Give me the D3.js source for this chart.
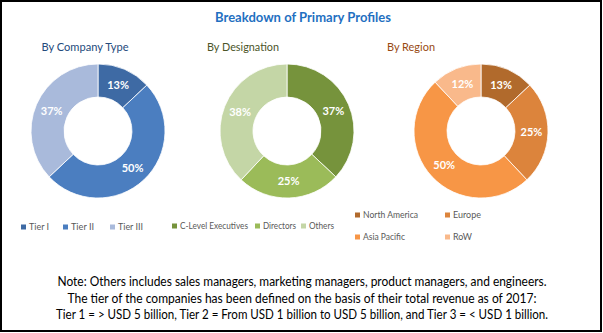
<!DOCTYPE html>
<html>
<head>
<meta charset="utf-8">
<script src="https://cdn.jsdelivr.net/npm/d3@7"></script>
<style>
  html, body { margin: 0; padding: 0; background: #fff; }
  svg { display: block; }
</style>
</head>
<body>
<svg id="chart" width="603" height="333"></svg>
<script>
// Shares of primary interview respondents, in percent
const companyTypes = ["Tier I", "Tier II", "Tier III"];
const companyValues = [13, 50, 37];
const companyColors = ["#3e6aa4", "#4b7ec0", "#a9badb"];

const designations = ["C-Level Executives", "Directors", "Others"];
const designationValues = [37, 25, 38];
const designationColors = ["#76933c", "#9bbb59", "#c4d6a6"];

const regions = ["North America", "Europe", "Asia Pacific", "RoW"];
const regionValues = [13, 25, 50, 12];
const regionColors = ["#b16a2c", "#dc843c", "#f79646", "#f9b98b"];

const noteLines = [
  "Note: Others includes sales managers, marketing managers, product managers, and engineers.",
  "The tier of the companies has been defined on the basis of their total revenue as of 2017:",
  "Tier 1 = > USD 5 billion, Tier 2 = From USD 1 billion to USD 5 billion, and Tier 3 = < USD 1 billion."
];

const svg = d3.select("#chart");
const font = "Lato, 'Open Sans', sans-serif";

svg.append("rect")
  .attr("x", 1).attr("y", 1).attr("width", 600).attr("height", 330)
  .attr("fill", "#fff").attr("stroke", "#000").attr("stroke-width", 2);

svg.append("text")
  .attr("x", 303).attr("y", 22)
  .attr("text-anchor", "middle")
  .attr("font-family", font).attr("font-weight", "bold").attr("font-size", 14)
  .attr("fill", "#1f70c1")
  .attr("textLength", 176).attr("lengthAdjust", "spacingAndGlyphs")
  .text("Breakdown of Primary Profiles");

const panels = [
  { title: "By Company Type", titleColor: "#244a7c", tx: 85, tw: 87, cx: 98, cy: 131,
    names: companyTypes, values: companyValues, colors: companyColors },
  { title: "By Designation", titleColor: "#4b5529", tx: 243, tw: 72, cx: 287, cy: 131,
    names: designations, values: designationValues, colors: designationColors },
  { title: "By Region", titleColor: "#984a12", tx: 411, tw: 48, cx: 481, cy: 131,
    names: regions, values: regionValues, colors: regionColors }
];

const outerR = 67, innerR = 34;
const arc = d3.arc().innerRadius(innerR).outerRadius(outerR);
const labelArc = d3.arc().innerRadius((innerR + outerR) / 2).outerRadius((innerR + outerR) / 2);
const pie = d3.pie().sort(null).value(d => d.value);

panels.forEach(p => {
  svg.append("text")
    .attr("x", p.tx).attr("y", 51)
    .attr("text-anchor", "middle")
    .attr("font-family", font).attr("font-size", 12)
    .attr("fill", p.titleColor)
    .attr("textLength", p.tw).attr("lengthAdjust", "spacingAndGlyphs")
    .text(p.title);

  const data = p.names.map((n, i) => ({ name: n, value: p.values[i], color: p.colors[i] }));
  const g = svg.append("g").attr("transform", `translate(${p.cx},${p.cy})`);
  const arcs = pie(data);

  g.selectAll("path").data(arcs).join("path")
    .attr("d", arc)
    .attr("fill", d => d.data.color)
    .attr("stroke", "#fff").attr("stroke-width", 0.8);

  g.selectAll("text").data(arcs).join("text")
    .attr("transform", d => `translate(${labelArc.centroid(d)})`)
    .attr("text-anchor", "middle").attr("dy", "0.35em")
    .attr("font-family", font).attr("font-weight", "bold").attr("font-size", 11)
    .attr("fill", "#fff")
    .text(d => d.data.value + "%");
});

// Legends
const legendFont = 9.5;
function legendItem(x, y, color, label, w) {
  svg.append("rect").attr("x", x).attr("y", y - 2.5).attr("width", 5).attr("height", 5).attr("fill", color);
  svg.append("text")
    .attr("x", x + 8).attr("y", y).attr("dy", "0.35em")
    .attr("font-family", font).attr("font-size", legendFont)
    .attr("fill", "#595959")
    .attr("textLength", w).attr("lengthAdjust", "spacingAndGlyphs")
    .text(label);
}

const companyLegendX = [21, 63, 110];
const companyLegendW = [20, 23, 25];
companyTypes.forEach((n, i) => legendItem(companyLegendX[i], 227, companyColors[i], n, companyLegendW[i]));

const designationLegendX = [172, 255, 301];
const designationLegendW = [68, 33, 25];
designations.forEach((n, i) => legendItem(designationLegendX[i], 226, designationColors[i], n, designationLegendW[i]));

const regionLegendPos = [[355, 215], [445, 215], [355, 237], [445, 237]];
const regionLegendW = [55, 28, 42, 19];
regions.forEach((n, i) => legendItem(regionLegendPos[i][0], regionLegendPos[i][1], regionColors[i], n, regionLegendW[i]));

// Footnote
const noteW = [489, 469, 492];
noteLines.forEach((line, i) => {
  svg.append("text")
    .attr("x", 302).attr("y", 286 + i * 16.5)
    .attr("text-anchor", "middle")
    .attr("font-family", font).attr("font-size", 12.5)
    .attr("fill", "#000")
    .attr("textLength", noteW[i]).attr("lengthAdjust", "spacingAndGlyphs")
    .text(line);
});
</script>
</body>
</html>
